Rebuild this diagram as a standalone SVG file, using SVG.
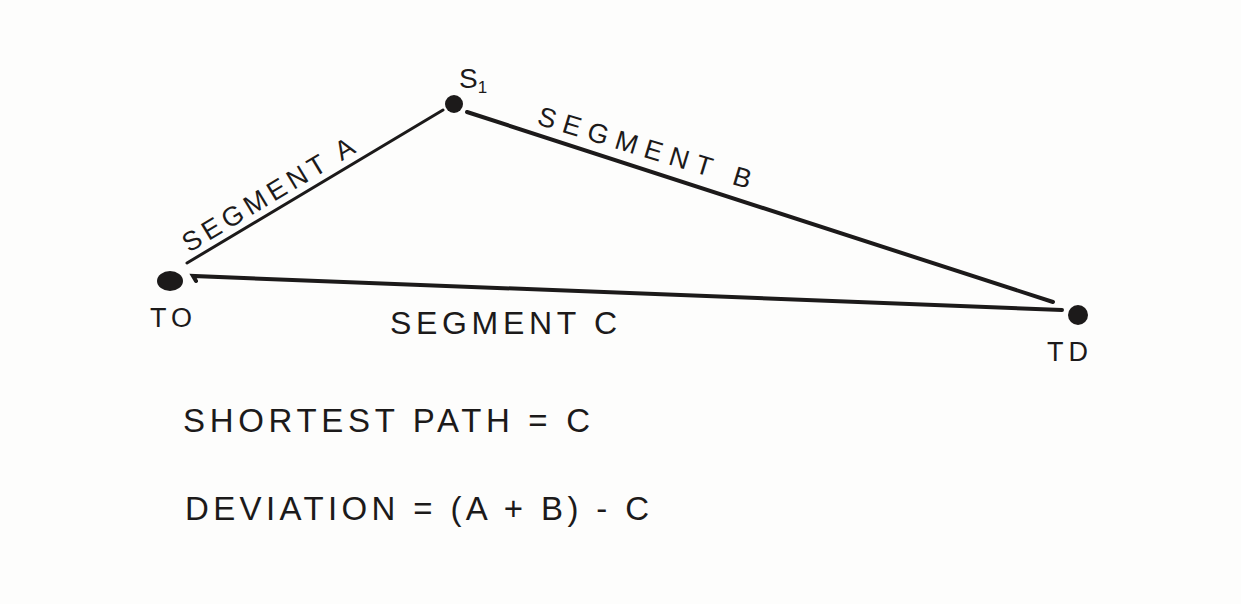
<svg xmlns="http://www.w3.org/2000/svg" width="1241" height="604" viewBox="0 0 1241 604">
<style>
.t{font-family:"Liberation Sans","DejaVu Sans",sans-serif;fill:#1c1a1a;}
.c{stroke:#1c1a1a;stroke-linecap:round;fill:none;}
.d{fill:#1c1a1a;}
</style>
<rect width="1241" height="604" fill="#fdfdfc"/>
<g id="connectors">
  <line class="c" x1="187" y1="263" x2="443" y2="110" stroke-width="3"/>
  <line class="c" x1="467" y1="112" x2="1053" y2="302" stroke-width="4"/>
  <path class="c" d="M196 281 L193 276 L1062 310" stroke-width="4"/>
  <text class="t" font-size="27" transform="translate(189 253) rotate(-31)" textLength="196" lengthAdjust="spacing">SEGMENT A</text>
  <text class="t" font-size="27" transform="translate(536 124) rotate(17)" textLength="222" lengthAdjust="spacing">SEGMENT B</text>
  <text class="t" font-size="32" x="390" y="334" textLength="227" lengthAdjust="spacing">SEGMENT C</text>
</g>
<g id="node-TO">
  <ellipse class="d" cx="170" cy="281" rx="13" ry="10"/>
  <text class="t" font-size="27" x="150" y="327" textLength="42" lengthAdjust="spacing">TO</text>
</g>
<g id="node-S1">
  <circle class="d" cx="454" cy="104" r="9"/>
  <text class="t" font-size="28" x="459" y="88">S<tspan font-size="17" dy="5">1</tspan></text>
</g>
<g id="node-TD">
  <circle class="d" cx="1078" cy="315" r="10"/>
  <text class="t" font-size="27" x="1047" y="361" textLength="41" lengthAdjust="spacing">TD</text>
</g>
<g id="formulas">
  <text class="t" font-size="33" x="183" y="432" textLength="407" lengthAdjust="spacing">SHORTEST PATH = C</text>
  <text class="t" font-size="33" x="185" y="520" textLength="464" lengthAdjust="spacing">DEVIATION = (A + B) - C</text>
</g>
</svg>
